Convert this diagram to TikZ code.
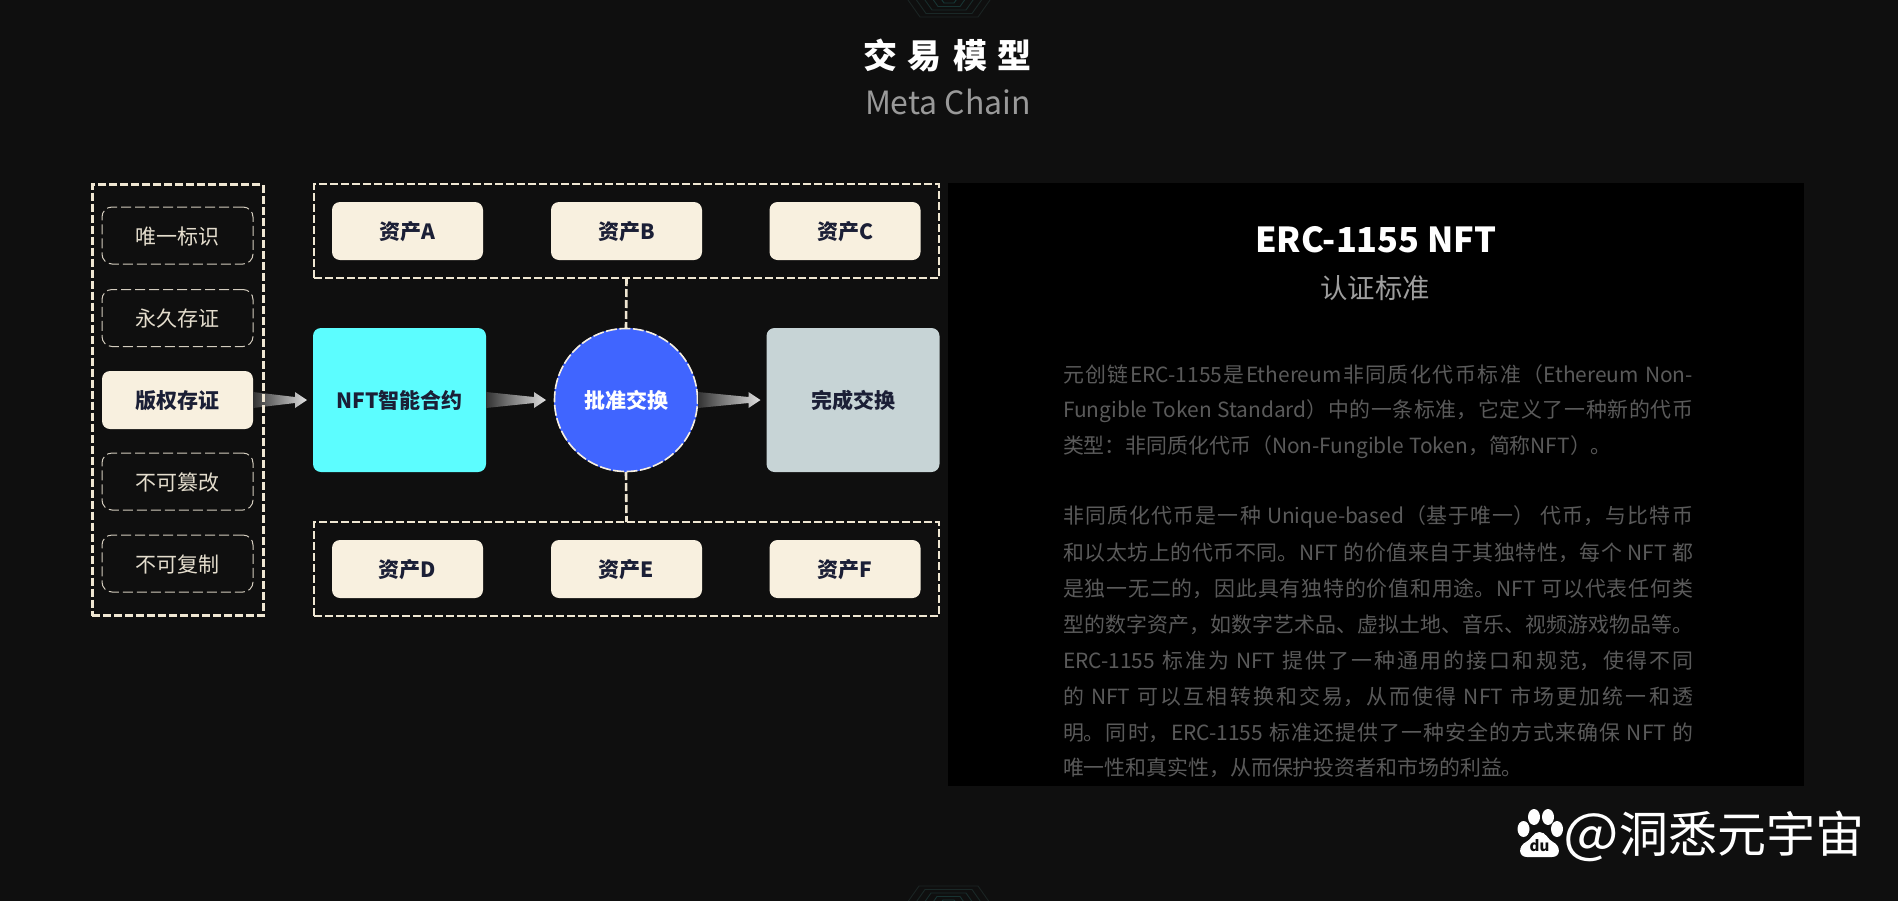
\documentclass[tikz,border=0pt]{standalone}
\usepackage{fontspec}
\usetikzlibrary{calc}
\setmainfont{Noto Sans CJK SC}
\XeTeXlinebreaklocale "zh-cn"
\XeTeXlinebreakskip=0pt plus 2pt
\definecolor{bgc}{HTML}{0F0F0F}
\definecolor{cream}{HTML}{F8F0DF}
\definecolor{dashc}{HTML}{EFE6D2}
\definecolor{inkc}{HTML}{1B1F36}
\definecolor{cyanc}{HTML}{5CFDFF}
\definecolor{bluec}{HTML}{4065FF}
\definecolor{greyb}{HTML}{C7D4D6}
\definecolor{bodyc}{HTML}{5A5A5A}
\definecolor{hexc}{HTML}{1B2423}
\newcommand{\fz}[1]{\fontsize{#1}{#1}\selectfont}
\newcommand{\dn}[1]{\raisebox{-1pt}[\height][\depth]{#1}}
\tikzset{
  lab/.style={inner sep=0,outer sep=0,align=center},
  dashbox/.style={draw=dashc,line width=2.6pt,dash pattern=on 8pt off 3pt,inner sep=0,outer sep=0},
  dashlink/.style={draw=dashc,line width=2.6pt,dash pattern=on 8pt off 3pt},
  asset/.style={fill=cream,rounded corners=8pt,minimum width=151pt,minimum height=58pt,inner sep=0,outer sep=0,text=inkc,font=\fz{21}\bfseries},
  pill/.style={draw=cream!85!black,line width=1pt,dash pattern=on 10pt off 4pt,rounded corners=10pt,minimum width=151pt,minimum height=57pt,inner sep=0,outer sep=0,text=cream!92!black,font=\fz{21}},
  bigbox/.style={rounded corners=8pt,minimum width=173pt,minimum height=144pt,inner sep=0,outer sep=0,text=inkc,font=\fz{21}\bfseries},
  bodyline/.style={anchor=west,inner sep=0,outer sep=0,text width=630pt,text=bodyc,font=\fz{20.9},align=justify,execute at begin node={\parfillskip=0pt\tolerance=9999\hyphenpenalty=10000\emergencystretch=0pt\hfuzz=3pt}},
  bodylast/.style={anchor=west,inner sep=0,outer sep=0,text=bodyc,font=\fz{20.9}},
  fatarrow/.style={left color=bgc!85!white,right color=white!88!black,draw=none}
}
\newcommand{\fatarrowfrom}[2]{%
  \shade[fatarrow] ($(#1)+(0,-8)$) -- ($(#2)+(-12,-3)$) -- ($(#2)+(-12,-8)$) -- (#2) -- ($(#2)+(-12,8)$) -- ($(#2)+(-12,3)$) -- ($(#1)+(0,8)$) -- cycle;}
\begin{document}
\begin{tikzpicture}[x=1pt,y=-1pt]
\path[use as bounding box] (0,0) rectangle (1898,900);
\fill[bgc] (-5,-5) rectangle (1903,905);
% hexagon decorations
\foreach \i/\c in {0/100,1/96,2/90,3/84,4/78}{
  \draw[hexc!\c!teal,line width=.9pt] ({920+\i*6-12},{17-3.5*\i-17}) -- ({920+\i*6},{17-3.5*\i}) -- ({978-\i*6},{17-3.5*\i}) -- ({978-\i*6+12},{17-3.5*\i-17});
  \draw[hexc!\c!teal,line width=.9pt] ({919+\i*6-12},{886+3.5*\i+17}) -- ({919+\i*6},{886+3.5*\i}) -- ({978-\i*6},{886+3.5*\i}) -- ({978-\i*6+12},{886+3.5*\i+17});
}
% title
\node[lab,text=white,font=\fz{34}\bfseries] (title) at (947.5,55) {交\kern11pt 易\kern11pt 模\kern11pt 型};
\node[lab,text=white!60!black,font=\fz{32}] (subtitle) at (948,102) {Meta Chain};
% panel
\fill[black] (947.5,183) rectangle (1804,786);
\node[lab,text=white,font=\fz{34.4}\bfseries] (ptitle) at (1376,240) {ERC-1155 NFT};
\node[lab,text=white!62!black,font=\fz{27.4}] (psub) at (1375,288) {认证标准};
\node[bodyline] (b1) at (1063,375) {元创链ERC-1155是Ethereum非同质化代币标准（Ethereum Non-};
\node[bodyline] (b2) at (1063,411) {Fungible Token Standard）中的一条标准，它定义了一种新的代币};
\node[bodylast] (b3) at (1063,447) {类型：非同质化代币（Non-Fungible Token，简称NFT）。};
\node[bodyline] (b4) at (1063,517) {非同质化代币是一种 Unique-based（基于唯一） 代币，与比特币};
\node[bodyline] (b5) at (1063,553) {和以太坊上的代币不同。NFT 的价值来自于其独特性，每个 NFT 都};
\node[bodyline] (b6) at (1063,589) {是独一无二的，因此具有独特的价值和用途。NFT 可以代表任何类};
\node[bodyline] (b7) at (1063,625) {型的数字资产，如数字艺术品、虚拟土地、音乐、视频游戏物品等。};
\node[bodyline] (b8) at (1063,661) {ERC-1155 标准为 NFT 提供了一种通用的接口和规范，使得不同};
\node[bodyline] (b9) at (1063,697) {的 NFT 可以互相转换和交易，从而使得 NFT 市场更加统一和透};
\node[bodyline] (b10) at (1063,733) {明。同时，ERC-1155 标准还提供了一种安全的方式来确保 NFT 的};
\node[bodylast] (b11) at (1063,768) {唯一性和真实性，从而保护投资者和市场的利益。};
% nodes
\node[pill] (v1) at (177.5,235.5) {\dn{唯一标识}};
\node[pill] (v2) at (177.5,318) {\dn{永久存证}};
\node[asset] (v3) at (177.5,400) {\dn{版权存证}};
\node[pill] (v4) at (177.5,481.5) {\dn{不可篡改}};
\node[pill] (v5) at (177.5,563.5) {\dn{不可复制}};
\node[bigbox,fill=cyanc] (nft) at (399.5,400) {NFT智能合约};
\node[circle,fill=bluec,minimum size=144pt,inner sep=0,outer sep=0,text=white,font=\fz{21}\bfseries] (appr) at (626,400) {批准交换};
\draw[cream,line width=1.6pt,dash pattern=on 11pt off 2.5pt] (appr) circle[radius=71.5pt];
\node[bigbox,fill=greyb] (done) at (853,400) {完成交换};
% arrows
\coordinate (t1) at ($(nft.west)+(-6,0)$);
\coordinate (t2) at ($(appr.west)+(-8,0)$);
\coordinate (t3) at ($(done.west)+(-6,0)$);
\fatarrowfrom{v3.east}{t1}
\fatarrowfrom{nft.east}{t2}
\fatarrowfrom{appr.east}{t3}
% dashed groups
\node[dashbox,minimum width=171pt,minimum height=431pt] (vbox) at (177.8,400) {};
\node[dashbox,minimum width=625pt,minimum height=94pt] (top) at (626.5,231) {};
\node[dashbox,minimum width=625pt,minimum height=94pt] (bot) at (626.5,569) {};
\draw[dashlink] (top.south) -- (appr.north);
\draw[dashlink] (appr.south) -- (bot.north);
\node[asset] (a) at (407.5,231) {\dn{资产A}};
\node[asset] (b) at (626.5,231) {\dn{资产B}};
\node[asset] (c) at (845,231) {\dn{资产C}};
\node[asset] (d) at (407.5,569) {\dn{资产D}};
\node[asset] (e) at (626.5,569) {\dn{资产E}};
\node[asset] (f) at (845,569) {\dn{资产F}};
% watermark
\fill[white] (1523.5,829) ellipse[x radius=6,y radius=8];
\fill[white] (1534,817) ellipse[x radius=6,y radius=8];
\fill[white] (1548,817) ellipse[x radius=6,y radius=8];
\fill[white] (1557,829) ellipse[x radius=6,y radius=8];
\fill[white] (1539.5,832) .. controls (1546,832) and (1548,840) .. (1553,842) .. controls (1561,846) and (1561,857) .. (1552,857) -- (1527,857) .. controls (1518,857) and (1518,846) .. (1526,842) .. controls (1531,840) and (1533,832) .. (1539.5,832) -- cycle;
\node[lab,text=bgc,font=\fz{15}\bfseries] (du) at (1539.5,846) {du};
\node[lab,text=white,font=\fz{49},anchor=west] (wm) at (1563,836) {\scalebox{1.2}[1.1]{@}\kern1pt 洞悉元宇宙};
\end{tikzpicture}
\end{document}
